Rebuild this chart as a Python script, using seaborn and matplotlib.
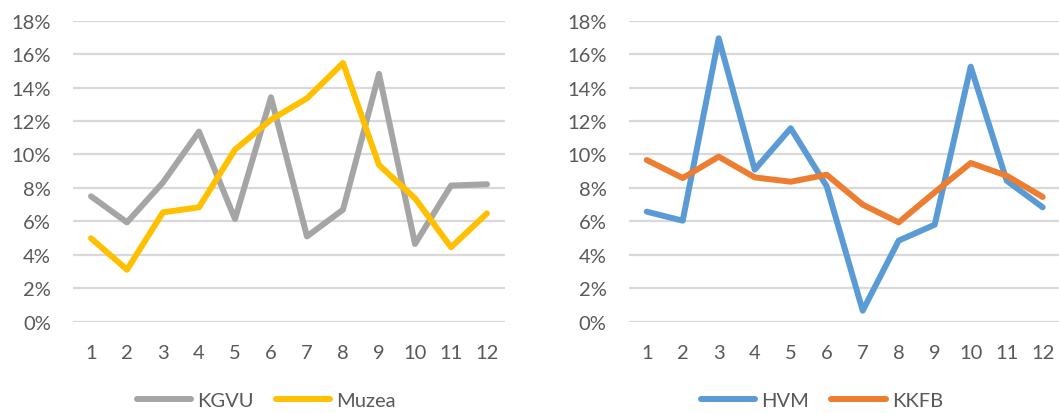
import pandas as pd
import numpy as np
import matplotlib.pyplot as plt
import seaborn as sns

months = [1, 2, 3, 4, 5, 6, 7, 8, 9, 10, 11, 12]

kgvu = [7.50, 5.94, 8.33, 11.37, 6.14, 13.42, 5.10, 6.70, 14.82, 4.65, 8.14, 8.22]
muzea = [4.99, 3.11, 6.54, 6.84, 10.29, 12.08, 13.36, 15.47, 9.37, 7.38, 4.45, 6.48]
hvm = [6.58, 6.04, 16.95, 9.09, 11.57, 8.10, 0.66, 4.85, 5.80, 15.25, 8.43, 6.84]
kkfb = [9.67, 8.59, 9.87, 8.63, 8.37, 8.79, 7.00, 5.94, 7.74, 9.49, 8.73, 7.46]

yticks = [0, 0.02, 0.04, 0.06, 0.08, 0.10, 0.12, 0.14, 0.16, 0.18]

sns.set_style('white')
plt.rcParams['font.family'] = ['Lato', 'DejaVu Sans']

df_left = pd.DataFrame({'mes': months * 2,
                        'val': np.array(kgvu + muzea) / 100,
                        'serie': ['KGVU'] * 12 + ['Muzea'] * 12})
df_right = pd.DataFrame({'mes': months * 2,
                         'val': np.array(hvm + kkfb) / 100,
                         'serie': ['HVM'] * 12 + ['KKFB'] * 12})

fig = plt.figure(figsize=(10.59, 4.14), dpi=100)
ax1 = fig.add_axes([73 / 1059, 91.3 / 414, 432 / 1059, 301 / 414])
ax2 = fig.add_axes([628.7 / 1059, 91.3 / 414, 432 / 1059, 301 / 414])

txt = '#595959'


def style(ax, data, palette, legx):
    ax.set_axisbelow(True)
    sns.lineplot(data=data, x='mes', y='val', hue='serie', palette=palette,
                 linewidth=4.3, ax=ax, clip_on=False)
    ax.set_xlim(0.5, 12.5)
    ax.set_ylim(0, 0.18)
    ax.set_yticks(yticks)
    ax.set_yticklabels(['{:.0%}'.format(v) for v in yticks])
    ax.set_xticks(months)
    ax.set_xticklabels([str(m) for m in months])
    ax.grid(axis='y', color='#D9D9D9', linewidth=1.6)
    ax.spines[['right', 'top', 'left', 'bottom']].set_visible(False)
    ax.set_xlabel(None)
    ax.set_ylabel(None)
    ax.tick_params(axis='y', length=0, pad=16, labelsize=14.5, labelcolor=txt)
    ax.tick_params(axis='x', length=0, pad=16, labelsize=14.5, labelcolor=txt)
    ax.legend(loc='center', bbox_to_anchor=(legx, 0.03), bbox_transform=fig.transFigure,
              ncol=2, frameon=False, fontsize=14.5, handlelength=2.7, handletextpad=0.3,
              columnspacing=1.1, labelcolor=txt, borderpad=0.2)


style(ax1, df_left, ['#A5A5A5', '#FFC000'], 266 / 1059)
style(ax2, df_right, ['#5B9BD5', '#ED7D31'], 822 / 1059)

fig.savefig('out.png', dpi=100)
